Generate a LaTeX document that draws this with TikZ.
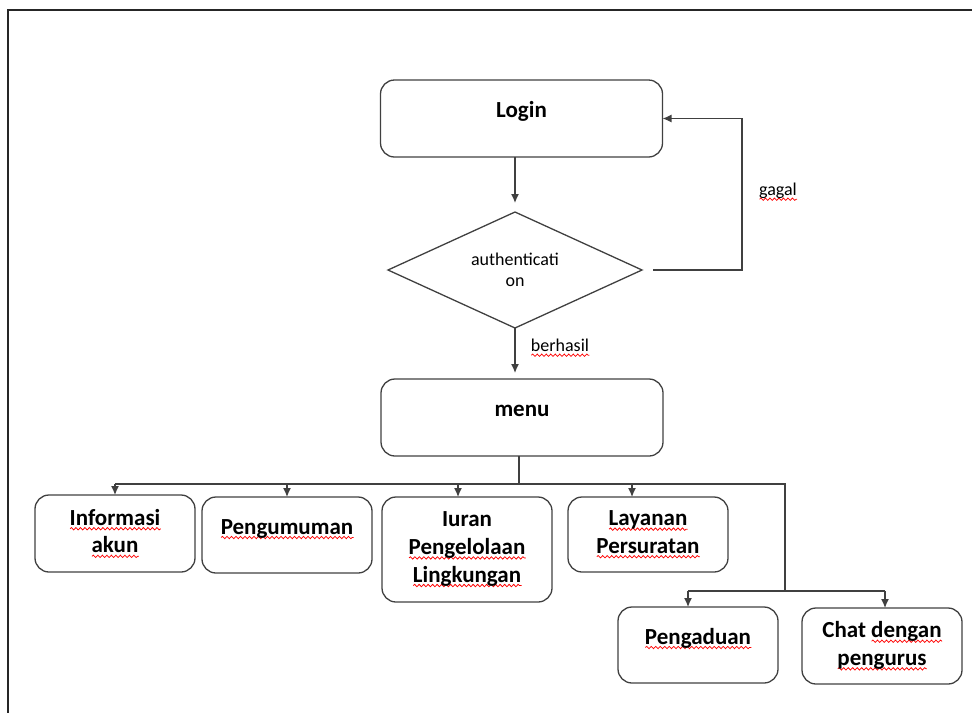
\documentclass[tikz,border=0pt]{standalone}
\usepackage{fontspec}
\setmainfont{Carlito}
\usetikzlibrary{arrows.meta,shapes.geometric,decorations.pathmorphing}
\newlength\sqwd
\newcommand\squig[1]{\settowidth\sqwd{#1}\leavevmode\rlap{\tikz[baseline=0pt]
  \draw[-,sharp corners,red,line width=0.75pt,decorate,decoration={snake,
  amplitude=1.2pt,segment length=4.5pt}] (0pt,-3.5pt) -- (\sqwd,-3.5pt);}#1}
\definecolor{lnc}{HTML}{404040}
\tikzset{
  fc_node/.style = {align=center, inner sep=0pt, outer sep=0pt, draw=lnc,
    text=black, line width=1.3pt},
  fc_box/.style = {fc_node, rectangle, rounded corners=14pt,
    font=\fontsize{23}{27.6}\selectfont\bfseries},% kotak proses
  fc_one/.style = {fc_box, text height=15pt, text depth=17pt},% kotak satu baris
  fc_dec/.style = {fc_node, diamond, aspect=2.2, minimum width=254pt,
    minimum height=116pt, font=\fontsize{18}{21.6}\selectfont},% keputusan
  fc_lbl/.style = {inner sep=0pt, text=black,
    font=\fontsize{18}{21.6}\selectfont}% label panah
}

\begin{document}
\begin{tikzpicture}[x=1pt,y=-1pt,->,>={Latex[length=9pt,width=8pt]},
  line width=1.3pt,color=lnc]
\useasboundingbox (0,0) rectangle (972,713);
\draw[-,line width=2pt,black!85] (972,10) -- (8,10) -- (8,713);

\node[fc_one, minimum width=282pt, minimum height=77pt] (login) at (521.5,118.5) {Login};
\node[fc_dec] (auth) at (515,270) {authenticati\\on};
\node[fc_one, minimum width=282pt, minimum height=77pt] (menu) at (522,417.5) {menu};

\node[fc_box, minimum width=160pt, minimum height=77pt] (info) at (115,533.5)
  {\squig{Informasi}\\\squig{akun}};
\node[fc_one, minimum width=170pt, minimum height=76pt] (umum) at (287,535)
  {\squig{Pengumuman}};
\node[fc_box, minimum width=170pt, minimum height=105pt] (iuran) at (467,549.5)
  {Iuran\\\squig{Pengelolaan}\\\squig{Lingkungan}};
\node[fc_box, minimum width=160pt, minimum height=75pt] (surat) at (648,534.5)
  {\squig{Layanan}\\\squig{Persuratan}};
\node[fc_one, minimum width=160pt, minimum height=76pt] (adu) at (698,645)
  {\squig{Pengaduan}};
\node[fc_box, minimum width=160pt, minimum height=76pt] (chat) at (882,646)
  {Chat \squig{dengan}\\\squig{pengurus}};

% login - autentikasi - menu
\draw[shorten >=9pt] (auth.north |- login.south) -- (auth.north);
\draw[shorten >=6pt] (auth.south) -- (auth.south |- menu.north);
\node[fc_lbl] (berhasil) at (560,348) {\squig{berhasil}};

% gagal kembali ke login
\coordinate (fail) at (653,270);
\draw (fail) -- ++(89,0) |- (login.east);
\node[fc_lbl] (gagal) at (778,192) {\squig{gagal}};

% cabang menu
\coordinate (bus) at (519,484);
\coordinate (sub) at (785,591);
\coordinate (iuran_in) at ([xshift=-9]iuran.north);
\coordinate (surat_in) at ([xshift=-16]surat.north);
\coordinate (adu_in) at ([xshift=-10]adu.north);
\coordinate (chat_in) at ([xshift=3]chat.north);
\draw[-] (menu.south -| bus) -- (bus);
\draw[-] (info.north |- bus) -| (sub);
\draw[-] (adu_in |- sub) -- (chat_in |- sub);
\draw (info.north |- bus) -- (info.north);
\draw (umum.north |- bus) -- (umum.north);
\draw (iuran_in |- bus) -- (iuran_in);
\draw (surat_in |- bus) -- (surat_in);
\draw (adu_in |- sub) -- (adu_in);
\draw (chat_in |- sub) -- (chat_in);
\end{tikzpicture}
\end{document}
